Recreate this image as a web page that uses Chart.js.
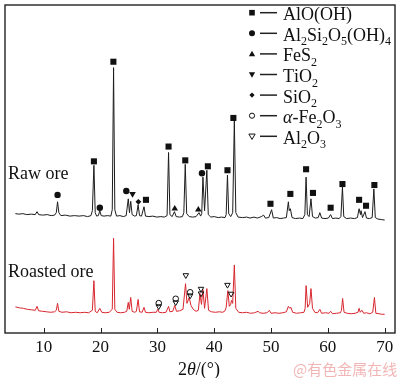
<!DOCTYPE html>
<html>
<head>
<meta charset="utf-8">
<script src="https://cdn.jsdelivr.net/npm/chart.js@4/dist/chart.umd.min.js"></script>
<style>
html,body{margin:0;padding:0;background:#fff;}
#wrap{width:400px;height:378px;position:relative;}
</style>
</head>
<body>
<div id="wrap"><canvas id="c"></canvas></div>
<script>
// ---------- DATA (2θ in degrees, intensity in arbitrary units, patterns stacked) ----------
const xTicks = [10, 20, 30, 40, 50, 60, 70];

const rawAngle = [5.0,5.6,6.3,7.0,7.8,8.5,8.8,9.1,9.8,10.6,11.3,11.9,12.2,12.42,12.65,13.0,13.8,14.6,15.4,16.2,17.0,17.7,18.3,18.55,18.82,19.05,19.3,19.6,19.86,20.1,20.6,21.2,21.8,22.05,22.28,22.5,22.8,23.4,24.0,24.5,24.87,25.08,25.3,25.55,26.0,26.3,26.6,26.85,27.2,27.64,27.9,28.5,29.2,29.9,30.6,31.2,31.7,31.96,32.2,32.6,33.0,33.3,33.9,34.4,34.65,34.9,35.15,35.6,36.2,36.8,37.32,37.6,37.8,38.01,38.3,38.7,38.95,39.4,40.0,40.7,41.3,41.9,42.1,42.33,42.55,42.9,43.25,43.54,43.8,44.2,45.0,45.7,46.3,47.0,47.6,48.3,48.7,49.0,49.6,50.1,50.4,51.0,51.6,52.2,52.7,53.05,53.2,53.4,53.7,54.3,55.0,55.6,55.95,56.17,56.4,56.7,57.03,57.3,57.8,58.3,58.59,58.9,59.5,60.1,60.49,60.8,61.4,62.0,62.3,62.57,62.8,63.3,64.0,64.7,65.2,65.5,65.75,65.85,66.1,66.54,66.8,67.3,67.8,68.1,68.35,68.8,69.4,70.0];
const rawIntensity = [121,120.5,121,120,120.5,120,123,120,119.5,120,119,119.5,122,133,122,119,119.5,118.5,119,118.5,119,118,119,124,170,122,118.5,119,124,119,118.5,119,118.5,125,269,125,118.5,119,118,119,136,122,133.5,120,118.5,119,130,119,118.5,128,118.5,118,118.5,117.5,118,117.5,119,183,120,118,123,118,117.5,118,122,171,121,118,117.5,118,122,118.5,121,158,124,165,120,117.5,118,117,117.5,117,120,160,121,118,122,215,122,117.5,117,117.5,116.5,117.5,116.5,118,119.5,116.5,117,125,116.5,117,116,116.5,117,133,124,126,117,116,116.5,116,120,158,120,118,136,118,116.5,117,122,116.5,116,116.5,120,116,116.5,116,118,148,118,116,116.5,116,117,126,120,124,117,123,116.5,116,117,146,117,115.5,115,114.5];

const roastAngle = [5.0,5.7,6.4,7.1,7.8,8.5,8.8,9.1,9.8,10.5,11.2,11.9,12.2,12.42,12.65,13.2,14.0,14.8,15.6,16.4,17.2,17.9,18.55,18.82,19.05,19.4,19.86,20.2,20.8,21.5,22.05,22.28,22.5,22.9,23.5,24.2,24.6,24.87,25.05,25.3,25.55,26.0,26.3,26.6,26.85,27.3,27.64,27.9,28.5,29.2,29.8,30.06,30.3,30.9,31.5,31.96,32.2,32.7,33.05,33.35,33.9,34.5,34.95,35.2,35.59,35.9,36.3,36.8,37.2,37.49,37.75,38.01,38.3,38.7,39.0,39.5,40.2,40.9,41.5,41.9,42.1,42.4,42.65,42.9,43.03,43.25,43.54,43.8,44.3,45.0,45.7,46.4,47.1,47.7,48.0,48.6,49.3,49.7,50.0,50.7,51.4,52.1,52.7,53.05,53.3,53.5,53.8,54.5,55.2,55.8,56.0,56.17,56.45,56.8,57.03,57.3,57.7,58.2,58.59,58.9,59.6,60.2,60.5,60.8,61.5,62.2,62.4,62.6,62.85,63.4,64.1,64.8,65.3,65.5,65.7,66.0,66.3,66.8,67.4,67.9,68.2,68.45,69.0,69.5,70.0];
const roastIntensity = [26.5,25.5,25,24,23.5,23,27,22.5,22,21.5,21,21.5,23,30,22,21,21.5,20.5,21,20.5,21,20.5,23,53,22,20.5,25,21,20.5,21,24,96,24,21,20.5,21,22,31,24,36,22,21,22,34,21.5,21,26,21,20.5,21,21,24,21,20.5,21,27,21.5,22,28,22,22.5,24,50,30,36,28,24,22,23,40,29,44,25,45,23,21.5,21,21.5,21,22.5,26,43,27,29,33,30,69,25,21,20.5,21,20,20.5,22,20.5,20,20.5,23,20,20.5,20,20.5,21.5,27,25,26,21,20,20.5,21,25,48,26,30,45,25,21,20.5,24,20,20.5,20,22,19.5,20,20.5,23,35,21,20,19.5,20,21,25,21,23,20,20.5,19.5,21,36,20,19.5,19,19];

// phase markers (peak identification)
const aloohAngle = [18.82,22.25,27.98,31.96,34.9,38.88,42.33,43.37,49.9,53.4,56.17,57.38,60.49,62.57,65.5,66.72,68.19];
const aloohMark  = [174,275,135,189,175,169,165,218,131,141,166,142,127,151,135,129,150];
const kaolAngle = [12.42,19.86,24.52,37.84];
const kaolMark  = [140,127,144,162];
const fes2Angle = [33.05,37.2];
const fes2Mark  = [126,125];
const tio2Angle = [25.62];
const tio2Mark  = [141];
const sio2Angle = [26.65];
const sio2Mark  = [133];
const fe2o3Angle = [30.23,33.22,35.76];
const fe2o3Mark  = [30.3,34.7,41.3];
const al2o3Angle = [30.23,33.22,35.0,35.76,37.67,37.67,42.33,42.97];
const al2o3Mark  = [27,31,58.5,38,44.7,40,48.7,39.7];

const legendLabels = ['AlO(OH)','Al_2Si_2O_5(OH)_4','FeS_2','TiO_2','SiO_2','*α*-Fe_2O_3','Al_2O_3'];
const seriesLabels = ['Raw ore','Roasted ore'];
const axisTitle = '2*θ*/(°)';
const watermark = '@有色金属在线';

// ---------- helpers ----------
const pts = (xs, ys) => xs.map((x, i) => ({x: x, y: ys[i]}));
const SERIF = '"Liberation Serif","Times New Roman",serif';

function parseRich(s){
  const parts=[]; let i=0; let italic=false;
  while(i<s.length){
    const ch=s[i];
    if(ch==='*'){italic=!italic;i++;continue;}
    if(ch==='_'){parts.push({t:s[i+1],sub:true,it:italic});i+=2;continue;}
    parts.push({t:ch,sub:false,it:italic});i++;
  }
  return parts;
}
function drawRich(ctx, s, x, y, size, align){
  const parts=parseRich(s);
  const fontFor=p=>(p.it?'italic ':'')+(p.sub?Math.round(size*0.68):size)+'px '+SERIF;
  let w=0;
  parts.forEach(p=>{ctx.font=fontFor(p);w+=ctx.measureText(p.t).width;});
  let cx = align==='center'? x-w/2 : x;
  ctx.textBaseline='alphabetic'; ctx.textAlign='left';
  parts.forEach(p=>{ctx.font=fontFor(p);ctx.fillText(p.t,cx,p.sub?y+size*0.25:y);cx+=ctx.measureText(p.t).width;});
}
function marker(ctx, style, x, y, r, filled){
  ctx.beginPath();
  if(style==='rect'){ctx.rect(x-r,y-r,2*r,2*r);}
  else if(style==='circle'){ctx.arc(x,y,r,0,Math.PI*2);}
  else if(style==='up'){ctx.moveTo(x,y-r*1.05);ctx.lineTo(x+r*1.05,y+r*0.75);ctx.lineTo(x-r*1.05,y+r*0.75);ctx.closePath();}
  else if(style==='down'){ctx.moveTo(x,y+r*1.05);ctx.lineTo(x+r*1.05,y-r*0.75);ctx.lineTo(x-r*1.05,y-r*0.75);ctx.closePath();}
  else if(style==='diamond'){ctx.moveTo(x,y-r);ctx.lineTo(x+r,y);ctx.lineTo(x,y+r);ctx.lineTo(x-r,y);ctx.closePath();}
  if(filled){ctx.fillStyle='#111';ctx.fill();}
  else{ctx.strokeStyle='#111';ctx.lineWidth=1;ctx.stroke();}
}

const decor = {
  id:'decor',
  afterDraw(chart){
    const ctx=chart.ctx, a=chart.chartArea, xs=chart.scales.x;
    ctx.save();
    // frame
    ctx.strokeStyle='#222'; ctx.lineWidth=1.4;
    ctx.strokeRect(a.left,a.top,a.right-a.left,a.bottom-a.top);
    // inward tick marks
    ctx.lineWidth=1;
    xTicks.forEach(v=>{const px=Math.round(xs.getPixelForValue(v))+0.5;ctx.beginPath();ctx.moveTo(px,a.bottom);ctx.lineTo(px,a.bottom-5);ctx.stroke();});
    // series labels
    ctx.fillStyle='#111';
    ctx.font='18px '+SERIF; ctx.textAlign='left'; ctx.textBaseline='alphabetic';
    ctx.fillText(seriesLabels[0],8,179);
    ctx.fillText(seriesLabels[1],8,277);
    // axis title
    drawRich(ctx, axisTitle, 199, 375, 18, 'center');
    // legend
    const styles=[['rect',true,2.8],['circle',true,3],['up',true,3],['down',true,3],['diamond',true,2.6],['circle',false,2.6],['down',false,3]];
    legendLabels.forEach((lab,i)=>{
      const y=12.7+i*20.6;
      const st=styles[i];
      marker(ctx,st[0],252,y,st[2],st[1]);
      ctx.strokeStyle='#222';ctx.lineWidth=1.5;
      ctx.beginPath();ctx.moveTo(260,y);ctx.lineTo(277,y);ctx.stroke();
      ctx.fillStyle='#111';
      drawRich(ctx, lab, 283, y+7.5, 18, 'left');
    });
    // watermark
    ctx.fillStyle='rgba(232,120,120,0.55)';
    ctx.font='15px "Noto Sans CJK SC"'; ctx.textAlign='left'; ctx.textBaseline='alphabetic';
    ctx.fillText(watermark,293,375);
    ctx.restore();
  }
};

const lineDs = (label, data, color) => ({type:'line',label, data, borderColor:color, borderWidth:1, pointRadius:0, tension:0, fill:false, order:2});
const markDs = (label, data, style, r, filled, rot) => ({type:'scatter',label, data, showLine:false, pointStyle:style, pointRadius:r, rotation:rot||0,
  pointBackgroundColor: filled?'#111':'rgba(0,0,0,0)', pointBorderColor:'#111', pointBorderWidth: filled?0:1, order:1});

new Chart(document.getElementById('c'), {
  type:'scatter',
  data:{datasets:[
    lineDs('Raw ore', pts(rawAngle, rawIntensity), '#1c1c1c'),
    lineDs('Roasted ore', pts(roastAngle, roastIntensity), '#d8262e'),
    markDs('AlO(OH)', pts(aloohAngle, aloohMark), 'rect', 4.3, true),
    markDs('Al2Si2O5(OH)4', pts(kaolAngle, kaolMark), 'circle', 3.2, true),
    markDs('FeS2', pts(fes2Angle, fes2Mark), 'triangle', 3.8, true),
    markDs('TiO2', pts(tio2Angle, tio2Mark), 'triangle', 3.8, true, 180),
    markDs('SiO2', pts(sio2Angle, sio2Mark), 'rectRot', 2.9, true),
    markDs('α-Fe2O3', pts(fe2o3Angle, fe2o3Mark), 'circle', 2.8, false),
    markDs('Al2O3', pts(al2o3Angle, al2o3Mark), 'triangle', 3.2, false, 180)
  ]},
  options:{
    responsive:true, maintainAspectRatio:false, animation:false,
    layout:{padding:{left:1.5,right:1.5,top:0.5,bottom:0}},
    plugins:{legend:{display:false},tooltip:{enabled:false}},
    scales:{
      x:{type:'linear',min:3.17,max:71.82,
        afterBuildTicks:s=>{s.ticks=xTicks.map(v=>({value:v}));},
        afterFit:s=>{s.height=45;},
        grid:{display:false,drawTicks:false},border:{display:false},
        ticks:{font:{family:SERIF,size:17},color:'#111',padding:4,maxRotation:0,autoSkip:false}},
      y:{type:'linear',min:0,max:332.5,display:false}
    }
  },
  plugins:[decor]
});
</script>
</body>
</html>
